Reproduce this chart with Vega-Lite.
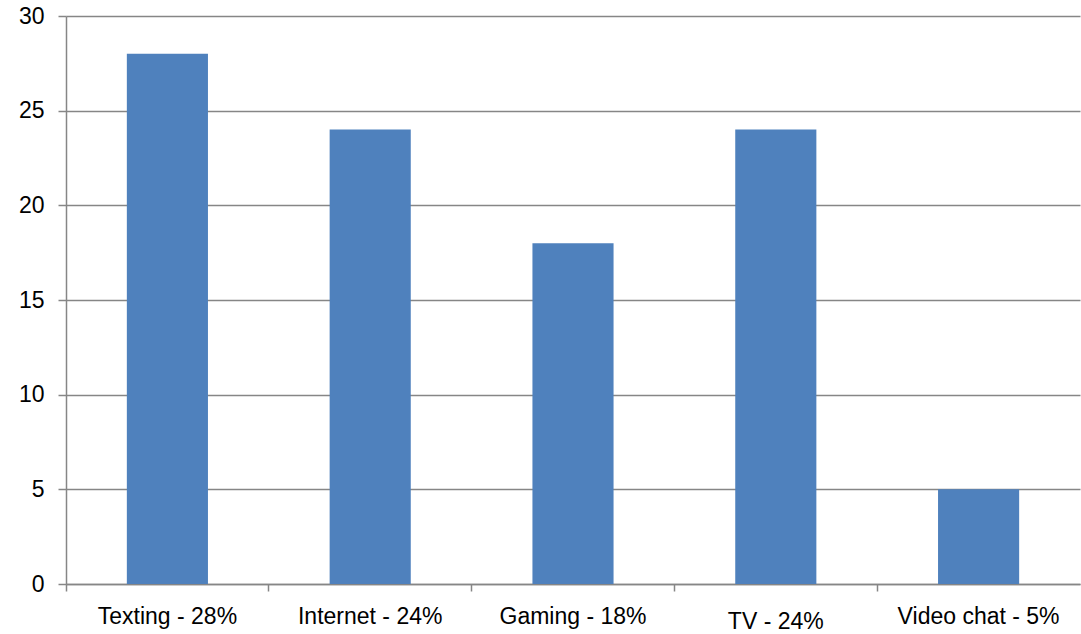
{
  "$schema": "https://vega.github.io/schema/vega-lite/v6.json",
  "width": 1014,
  "height": 568,
  "autosize": {"type": "none"},
  "padding": {"left": 66, "top": 16, "right": 1, "bottom": 50},
  "background": "white",
  "config": {"view": {"stroke": null}, "font": "Liberation Sans"},
  "data": {"values": [
    {"activity": "Texting - 28%", "value": 28},
    {"activity": "Internet - 24%", "value": 24},
    {"activity": "Gaming - 18%", "value": 18},
    {"activity": "TV - 24%", "value": 24},
    {"activity": "Video chat - 5%", "value": 5}
  ]},
  "mark": {"type": "bar", "color": "#4F81BD", "width": {"band": 0.4}},
  "encoding": {
    "x": {
      "field": "activity", "type": "nominal", "sort": null,
      "scale": {"paddingInner": 0, "paddingOuter": 0},
      "axis": {
        "title": null, "labelAngle": 0, "labelFontSize": 23, "labelColor": "#000000",
        "labelPadding": {"condition": {"test": "datum.value === 'TV - 24%'", "value": 19}, "value": 14},
        "domainColor": "#868686", "domainWidth": 1.5, "tickColor": "#868686", "tickWidth": 1.5,
        "tickSize": 7, "bandPosition": 0, "labelBound": false
      }
    },
    "y": {
      "field": "value", "type": "quantitative",
      "scale": {"domain": [0, 30], "nice": false},
      "axis": {
        "title": null, "values": [0, 5, 10, 15, 20, 25, 30], "labelFontSize": 23, "labelColor": "#000000",
        "labelPadding": 14, "tickSize": 8, "tickColor": "#868686", "tickWidth": 1.5,
        "domainColor": "#868686", "domainWidth": 1.5,
        "gridColor": "#868686", "gridWidth": 1.5, "grid": true
      }
    }
  }
}
